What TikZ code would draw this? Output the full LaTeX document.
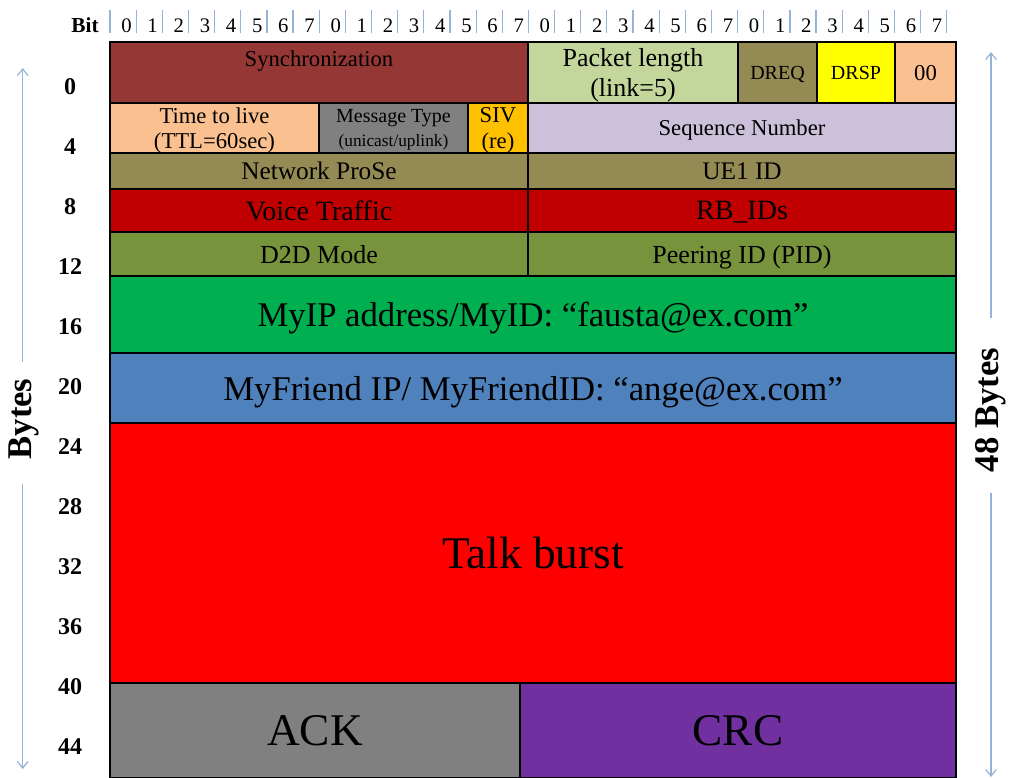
\documentclass[tikz,border=0pt]{standalone}
\usepackage{fontspec}
\setmainfont{Liberation Serif}
\usetikzlibrary{arrows.meta}

\definecolor{syncred}{HTML}{953735}
\definecolor{palegreen}{HTML}{C3D69B}
\definecolor{khaki}{HTML}{948A54}
\definecolor{brightyellow}{HTML}{FFFF00}
\definecolor{peach}{HTML}{FAC090}
\definecolor{midgrey}{HTML}{808080}
\definecolor{amber}{HTML}{FFC000}
\definecolor{lavender}{HTML}{CCC1DA}
\definecolor{darkred}{HTML}{C00000}
\definecolor{olive}{HTML}{77933C}
\definecolor{vivgreen}{HTML}{00B050}
\definecolor{steelblue}{HTML}{4F81BD}
\definecolor{pure}{HTML}{FF0000}
\definecolor{violet}{HTML}{7030A0}
\definecolor{axisblue}{HTML}{95B3D7}

% font size helper: size and baseline skip in pt
\newcommand\fz[2]{\fontsize{#1pt}{#2pt}\selectfont}

% a field of the packet: name, x1, y1, x2, y2, options (fill, font), text
\newcommand\field[7]{%
  \node[field, #6,
        minimum width={(#4-(#2))*0.75pt},
        minimum height={(#5-(#3))*0.75pt}] (#1) at (#2,#3) {#7};}

\begin{document}
\begin{tikzpicture}[x=0.75pt,y=-0.75pt,
  field/.style={draw=black, line width=1.6pt, inner sep=0pt, outer sep=0pt,
                anchor=north west, align=center, text=black, text depth=0pt},
  tickbar/.style={draw=axisblue, line width=0.9pt},
  axisarrow/.style={draw=axisblue, line width=0.9pt,
                    -{Straight Barb[length=5pt,width=8pt]}},
  bitnum/.style={font=\fz{15.5}{17}, anchor=base},
  rownum/.style={font=\bfseries\fz{18}{20}},
  bytelabel/.style={font=\bfseries\fz{26}{28}, rotate=90}]

\useasboundingbox (0,0) rectangle (1011,778);

% ---- header: bit numbering ----
\node[font=\bfseries\fz{16}{18}, anchor=base] (bitlabel) at (85,32.5) {Bit};
\foreach \k in {0,...,32}
  \draw[tickbar] (110+26.15*\k,10) -- (110+26.15*\k,33);
\foreach \k in {0,...,31}{
  \pgfmathtruncatemacro\d{mod(\k,8)}
  \node[bitnum] (bit\k) at (110+26.15*\k+16.5,32) {\d};
}

% ---- byte offsets ----
\foreach \n in {0,4,...,44}{
  \pgfmathsetmacro\yy{87+15*\n}
  \node[rownum] (row\n) at (70,\yy) {\n};
}

% ---- packet fields ----
\field{sync}{110}{42}{528}{103}{fill=syncred}{}
\node[font=\fz{17}{19}] (synctext) at (319,61) {Synchronization};
\field{pktlen}{528}{42}{738}{103}{fill=palegreen, font=\fz{19.5}{22.5}}{Packet length\\(link=5)}
\field{dreq}{738}{42}{817}{103}{fill=khaki, font=\fz{15}{17}}{DREQ}
\field{drsp}{817}{42}{895}{103}{fill=brightyellow, font=\fz{15}{17}}{DRSP}
\field{pad}{895}{42}{956}{103}{fill=peach, font=\fz{17}{19}}{00}

\field{ttl}{110}{103}{319}{153}{fill=peach, font=\fz{17}{19}}{Time to live\\(TTL=60sec)}
\field{msgtype}{319}{103}{468}{153}{fill=midgrey, font=\fz{15}{17.5}}{Message Type\\\fz{13}{17.5}(unicast/uplink)}
\field{siv}{468}{103}{528}{153}{fill=amber, font=\fz{17}{19}}{SIV\\(re)}
\field{seq}{528}{103}{956}{153}{fill=lavender, font=\fz{17}{19}}{Sequence Number}

\field{prose}{110}{153}{528}{189}{fill=khaki, font=\fz{19}{21}}{Network ProSe}
\field{ueid}{528}{153}{956}{189}{fill=khaki, font=\fz{19}{21}}{UE1 ID}

\field{voice}{110}{189}{528}{232}{fill=darkred, font=\fz{21}{23}}{Voice Traffic}
\field{rbid}{528}{189}{956}{232}{fill=darkred, font=\fz{21}{23}}{RB\_IDs}

\field{dmode}{110}{232}{528}{276}{fill=olive, font=\fz{19.5}{21}}{D2D Mode}
\field{pid}{528}{232}{956}{276}{fill=olive, font=\fz{19.5}{21}}{Peering ID (PID)}

\field{myip}{110}{276}{956}{353}{fill=vivgreen, font=\fz{26}{28}}{MyIP address/MyID: “fausta@ex.com”}
\field{friend}{110}{353}{956}{423}{fill=steelblue, font=\fz{26}{28}}{MyFriend IP/ MyFriendID: “ange@ex.com”}

\field{talk}{110}{423}{956}{683}{fill=pure, font=\fz{34}{36}}{Talk burst}

\field{ack}{110}{683}{520}{778}{fill=midgrey, font=\fz{34}{36}}{ACK}
\field{crc}{520}{683}{956}{778}{fill=violet, font=\fz{34}{36}}{CRC}

% ---- left axis: Bytes ----
\node[bytelabel] (lbytes) at (24,419) {Bytes};
\coordinate (lup) at (22.7,362);
\coordinate (ltop) at (22.7,68);
\coordinate (ldown) at (22.7,484);
\coordinate (lbot) at (22.7,769);
\draw[axisarrow] (lup) -- (ltop);
\draw[axisarrow] (ldown) -- (lbot);

% ---- right axis: 48 Bytes ----
\node[bytelabel] (rbytes) at (991,410) {48 Bytes};
\coordinate (rup) at (991,318);
\coordinate (rtop) at (991,52);
\coordinate (rdown) at (991,493);
\coordinate (rbot) at (991,777);
\draw[axisarrow] (rup) -- (rtop);
\draw[axisarrow] (rdown) -- (rbot);

\end{tikzpicture}
\end{document}
